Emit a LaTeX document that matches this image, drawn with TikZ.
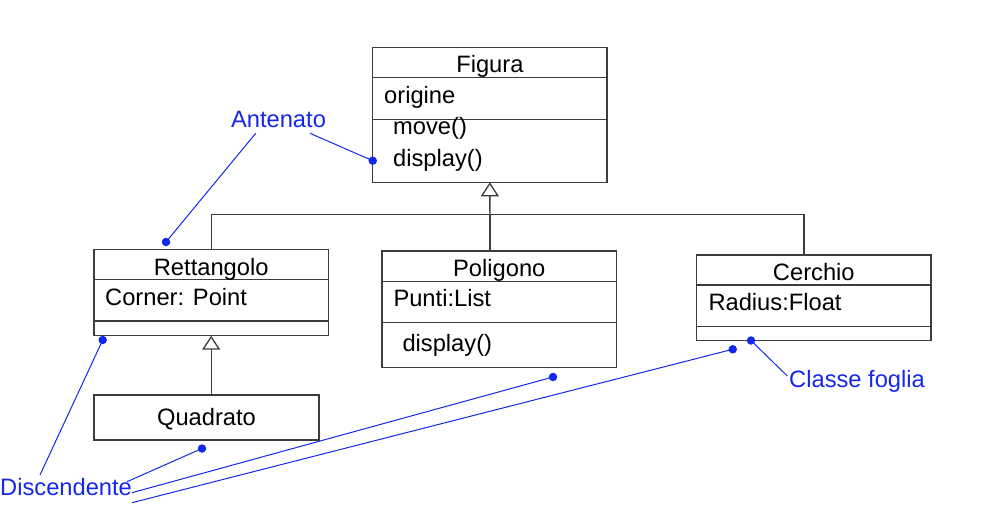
\documentclass[tikz,border=0pt]{standalone}
\usepackage{fontspec}
\setmainfont{Liberation Sans}
\usetikzlibrary{arrows.meta}
\definecolor{boxgray}{RGB}{60,60,60}
\definecolor{notecol}{RGB}{20,40,235}
\newcommand\umlsize{\fontsize{23.7}{28}\selectfont}

\begin{document}
\begin{tikzpicture}[x=1pt, y=-1pt,
  comp/.style={draw=boxgray, line width=1.3pt, rectangle, inner sep=0, outer sep=0, anchor=north west},
  txt/.style={inner sep=0, font=\umlsize},
  note/.style={inner sep=0, font=\umlsize, text=notecol},
  dot/.style={circle, fill=notecol, inner sep=0, minimum size=8.5pt},
  wire/.style={draw=boxgray, line width=1.3pt},
  gen/.style={-{Triangle[open, width=18pt, length=14pt]}},
  hint/.style={draw=notecol, line width=1pt}]
  \useasboundingbox (0,0) rectangle (996,525);

  % class boxes
  \node[comp, minimum width=234.3, minimum height=30.4] (figtitle) at (372.7,47.3) {};
  \node[comp, minimum width=234.3, minimum height=41.6] (figattr) at (figtitle.south west) {};
  \node[comp, minimum width=234.3, minimum height=63] (figmeth) at (figattr.south west) {};

  \node[comp, minimum width=234.3, minimum height=30.4] (rettitle) at (94,249.3) {};
  \node[comp, minimum width=234.3, minimum height=41.3] (retattr) at (rettitle.south west) {};
  \node[comp, minimum width=234.3, minimum height=14.7] (retmeth) at (retattr.south west) {};

  \node[comp, minimum width=225, minimum height=45] (quad) at (94,395) {};

  \node[comp, minimum width=234.7, minimum height=30.7] (poltitle) at (382,251) {};
  \node[comp, minimum width=234.7, minimum height=41] (polattr) at (poltitle.south west) {};
  \node[comp, minimum width=234.7, minimum height=45] (polmeth) at (polattr.south west) {};

  \node[comp, minimum width=234.3, minimum height=30] (certitle) at (696.7,255) {};
  \node[comp, minimum width=234.3, minimum height=41.7] (cerattr) at (certitle.south west) {};
  \node[comp, minimum width=234.3, minimum height=14] (cermeth) at (cerattr.south west) {};

  % texts
  \node[txt, anchor=base] (tfig) at (489.9,72.3) {Figura};
  \node[txt, anchor=base west] (torig) at (384,103.3) {origine};
  \node[txt, anchor=base west] (tmove) at (393,134.5) {move()};
  \node[txt, anchor=base west] (tdisp) at (393,166) {display()};
  \node[txt, anchor=base] (tret) at (211.2,275) {Rettangolo};
  \node[txt, anchor=base west] (tcorner) at (105,305.5) {Corner: Point};
  \node[txt, anchor=base] (tquad) at (206.5,425.5) {Quadrato};
  \node[txt, anchor=base] (tpol) at (499.3,276) {Poligono};
  \node[txt, anchor=base west] (tpunti) at (393.3,306.5) {Punti:List};
  \node[txt, anchor=base west] (tpdisp) at (402.3,351) {display()};
  \node[txt, anchor=base] (tcer) at (813.8,280) {Cerchio};
  \node[txt, anchor=base west] (tradius) at (708.3,310.7) {Radius:Float};

  % generalization
  \coordinate (busL) at (211.2,214.3);
  \coordinate (bus) at (489.9,214.3);
  \coordinate (busR) at (804,214.3);
  \draw[wire] (busL) -- (busR);
  \draw[wire] (busL) -- (busL |- rettitle.north);
  \draw[wire] (bus) -- (bus |- poltitle.north);
  \draw[wire] (busR) -- (busR |- certitle.north);
  \draw[wire, gen] (bus) -- (figmeth.south);
  \draw[wire, gen] (quad.north -| retmeth.south) -- (retmeth.south);

  % notes
  \node[note, anchor=base] (antenato) at (278.5,127) {Antenato};
  \node[note, anchor=base west] (foglia) at (789,387) {Classe foglia};
  \node[note, anchor=base west] (discend) at (0,495) {Discendente};

  \node[dot] (dret) at (166,242) {};
  \node[dot] (dfig) at (372.7,160.7) {};
  \node[dot] (dretb) at (102.7,340) {};
  \node[dot] (dquad) at (202,448.5) {};
  \node[dot] (dpol) at (553,377) {};
  \node[dot] (dcer) at (732.7,349.3) {};
  \node[dot] (dleaf) at (751,340.5) {};

  \coordinate (a1) at (255.7,133.3);
  \coordinate (a2) at (310,133.3);
  \coordinate (c1) at (787.3,376);
  \coordinate (e1) at (40,475);
  \coordinate (e2) at (127,481.7);
  \coordinate (e3) at (132,492.7);
  \coordinate (e4) at (132,502.7);
  \draw[hint] (a1) -- (dret.center); \draw[hint] (a2) -- (dfig.center);
  \draw[hint] (c1) -- (dleaf.center);
  \draw[hint] (e1) -- (dretb.center); \draw[hint] (e2) -- (dquad.center);
  \draw[hint] (e3) -- (dpol.center); \draw[hint] (e4) -- (dcer.center);
\end{tikzpicture}
\end{document}
